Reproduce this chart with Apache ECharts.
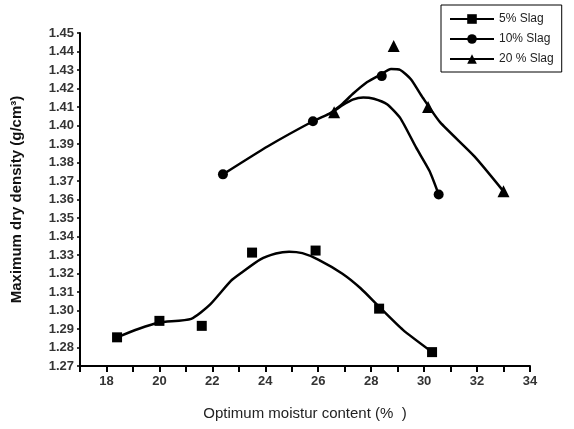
<!DOCTYPE html>
<html>
<head>
<meta charset="utf-8">
<script src="https://cdn.jsdelivr.net/npm/echarts@6/dist/echarts.min.js"></script>
<style>
  html, body { margin: 0; padding: 0; background: #fff; }
  #chart { width: 574px; height: 429px; }
</style>
</head>
<body>
<div id="chart"></div>
<script>
// measured points [moisture %, density g/cm3]
var slag5Points = [[18.4,1.2855],[20.0,1.2944],[21.6,1.2917],[23.5,1.3313],[25.9,1.3324],[28.3,1.3010],[30.3,1.2775]];
var slag10Points = [[22.4,1.3736],[25.8,1.4023],[28.4,1.4267],[30.55,1.3627]];
var slag20Points = [[26.6,1.4072],[28.85,1.4430],[30.15,1.4100],[33.0,1.3644]];

// fitted curves
var slag5Curve = [[18.4,1.2855],[19.2,1.2900],[20.0,1.2935],[21.2,1.2955],[21.9,1.3030],[22.7,1.3160],[23.1,1.3204],
  [23.8,1.3275],[24.4,1.3308],[24.9,1.3318],[25.4,1.3310],[26.0,1.3275],[26.9,1.3200],[27.6,1.3120],[28.3,1.3020],[29.2,1.2895],[30.3,1.2775]];
var slag10Curve = [[22.4,1.3736],[24.1,1.3888],[25.8,1.4023],[26.5,1.4070],[26.9,1.4108],[27.3,1.4140],[27.7,1.4152],
  [28.1,1.4145],[28.6,1.4115],[29.1,1.4040],[29.7,1.3880],[30.2,1.3755],[30.55,1.3627]];
var slag20Curve = [[26.4,1.4060],[26.9,1.4115],[27.3,1.4170],[27.85,1.4235],[28.35,1.4275],[28.75,1.4305],[29.1,1.4300],
  [29.5,1.4250],[29.95,1.4150],[30.6,1.4018],[31.9,1.3833],[33.0,1.3644]];

var seriesNames = ['5% Slag', '10% Slag', '20 % Slag'];
var symbols = ['rect', 'circle', 'triangle'];
var curves = [slag5Curve, slag10Curve, slag20Curve];
var points = [slag5Points, slag10Points, slag20Points];

var series = [];
for (var i = 0; i < seriesNames.length; i++) {
  series.push({
    name: seriesNames[i],
    type: 'line',
    smooth: 0.2,
    symbol: symbols[i],
    symbolSize: 10,
    showSymbol: false,
    lineStyle: { color: '#000', width: 2.5 },
    itemStyle: { color: '#000' },
    data: curves[i],
    z: 2
  });
}
for (var i = 0; i < seriesNames.length; i++) {
  series.push({
    name: seriesNames[i],
    type: 'scatter',
    symbol: symbols[i],
    symbolSize: i == 2 ? 12 : 10,
    itemStyle: { color: '#000', opacity: 1 },
    data: points[i],
    z: 3
  });
}

var chart = echarts.init(document.getElementById('chart'));
chart.setOption({
  animation: false,
  backgroundColor: '#fff',
  grid: { left: 80, right: 44, top: 33, bottom: 63 },
  legend: {
    data: seriesNames,
    orient: 'vertical',
    left: 441,
    top: 5,
    width: 131,
    padding: [8, 8, 7, 8],
    itemGap: 8,
    itemWidth: 44,
    itemHeight: 12,
    borderColor: '#000',
    borderWidth: 1,
    textStyle: { fontFamily: 'Liberation Sans', fontSize: 12, color: '#222' }
  },
  xAxis: {
    type: 'value',
    min: 17,
    max: 34,
    interval: 1,
    name: 'Optimum moistur content (%  )',
    nameLocation: 'middle',
    nameGap: 40,
    nameTextStyle: { fontFamily: 'Liberation Sans', fontSize: 15, color: '#222' },
    axisLine: { lineStyle: { color: '#000', width: 2 } },
    axisTick: { length: 6, lineStyle: { color: '#000', width: 2 } },
    axisLabel: {
      fontFamily: 'Liberation Sans', fontSize: 13, fontWeight: 'bold', color: '#333', margin: 9,
      formatter: function (v) { return (v % 2 == 0) ? String(v) : ''; }
    },
    splitLine: { show: false }
  },
  yAxis: {
    type: 'value',
    min: 1.27,
    max: 1.45,
    interval: 0.01,
    name: 'Maximum dry density (g/cm³)',
    nameLocation: 'middle',
    nameGap: 56,
    nameTextStyle: { fontFamily: 'Liberation Sans', fontSize: 15, fontWeight: 'bold', color: '#111' },
    axisLine: { lineStyle: { color: '#000', width: 2 } },
    axisTick: { length: 3, lineStyle: { color: '#000', width: 1.5 } },
    axisLabel: {
      fontFamily: 'Liberation Sans', fontSize: 13, fontWeight: 'bold', color: '#333', margin: 6,
      formatter: function (v) { return v.toFixed(2); }
    },
    splitLine: { show: false }
  },
  series: series
});
</script>
</body>
</html>
